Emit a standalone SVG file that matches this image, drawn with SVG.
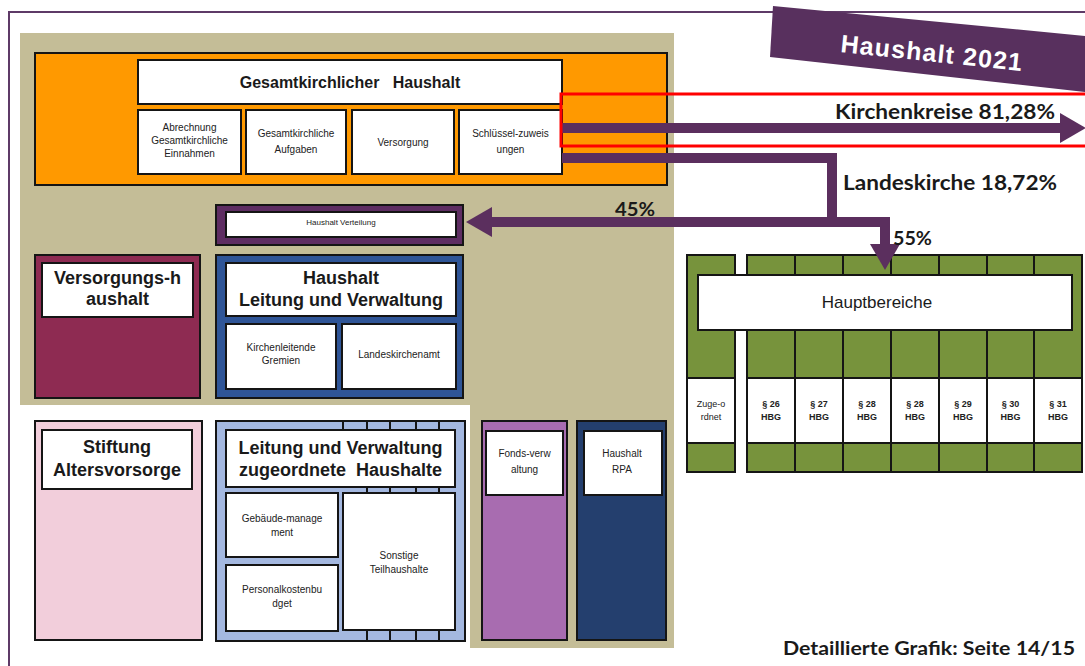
<svg xmlns="http://www.w3.org/2000/svg" width="1085" height="666" viewBox="0 0 1085 666">
<defs>
<marker id="ah" viewBox="0 0 26 30" refX="0" refY="15" markerWidth="26" markerHeight="30" markerUnits="userSpaceOnUse" orient="auto">
<path d="M0,0 L26,15 L0,30 Z" fill="#5B2F5E"/>
</marker>
<style>
.bx{stroke:#151515;stroke-width:2}
.w{fill:#ffffff;stroke:#151515;stroke-width:2}
.t{font-family:"Liberation Sans",Arial,sans-serif;fill:#222;text-anchor:middle}
.s{font-size:10px}
.xs{font-size:8px}
.b{font-size:18px;font-weight:bold;fill:#1a1a1a}
.c{font-family:Lato,"Liberation Sans",sans-serif;font-weight:bold;fill:#1a1a1a}
.con{fill:none;stroke:#5B2F5E;stroke-width:10;stroke-linejoin:miter}
.g{fill:#77933C;stroke:#151515;stroke-width:2}
.dv{stroke:#151515;stroke-width:2}
</style>
</defs>
<rect width="1085" height="666" fill="#ffffff"/>
<path d="M9,666 V12 H1085" fill="none" stroke="#5E3A67" stroke-width="2"/>
<path d="M20,33 H674 V648 H470 V405 H20 Z" fill="#C4BD97"/>

<g id="gesamt">
<rect x="35" y="53" width="632" height="132" fill="#FF9900" class="bx"/>
<rect x="138" y="60" width="424" height="44" class="w"/>
<text x="350" y="88" class="t" style="font-size:16px;font-weight:bold;fill:#1a1a1a" xml:space="preserve">Gesamtkirchlicher   Haushalt</text>
</g>
<g id="abrechnung">
<rect x="138" y="110" width="103" height="64" class="w"/>
<text class="t s" x="189.5" y="131">Abrechnung</text>
<text class="t s" x="189.5" y="144">Gesamtkirchliche</text>
<text class="t s" x="189.5" y="157">Einnahmen</text>
</g>
<g id="aufgaben">
<rect x="246" y="110" width="100" height="64" class="w"/>
<text class="t s" x="296" y="137">Gesamtkirchliche</text>
<text class="t s" x="296" y="153">Aufgaben</text>
</g>
<g id="versorgung">
<rect x="352" y="110" width="102" height="64" class="w"/>
<text class="t s" x="403" y="146">Versorgung</text>
</g>
<g id="schluessel">
<rect x="459" y="110" width="103" height="64" class="w"/>
<text class="t s" x="510.5" y="137">Schlüssel-zuweis</text>
<text class="t s" x="510.5" y="153">ungen</text>
</g>

<g id="verteilung">
<rect x="216" y="205" width="247" height="40" fill="#5E2D62" class="bx"/>
<rect x="226" y="212" width="230" height="25" class="w"/>
<text class="t xs" x="341" y="225">Haushalt Verteilung</text>
</g>

<g id="versorgungshaushalt">
<rect x="35" y="255" width="165" height="143" fill="#8E2B52" class="bx"/>
<rect x="42" y="263" width="151" height="54" class="w"/>
<text class="t b" x="117.5" y="284">Versorgungs-h</text>
<text class="t b" x="117.5" y="305">aushalt</text>
</g>

<g id="leitung">
<rect x="216" y="255" width="247" height="143" fill="#2F5597" class="bx"/>
<rect x="226" y="263" width="230" height="53" class="w"/>
<text class="t b" x="341" y="284">Haushalt</text>
<text class="t b" x="341" y="306">Leitung und Verwaltung</text>
<rect x="226" y="324" width="110" height="65" class="w"/>
<text class="t s" x="281" y="351">Kirchenleitende</text>
<text class="t s" x="281" y="364">Gremien</text>
<rect x="342" y="324" width="114" height="65" class="w"/>
<text class="t s" x="399" y="358">Landeskirchenamt</text>
</g>

<g id="stiftung">
<rect x="35" y="421" width="167" height="219" fill="#F2CEDB" class="bx"/>
<rect x="42" y="430" width="150" height="59" class="w"/>
<text class="t b" x="117" y="453">Stiftung</text>
<text class="t b" x="117" y="476">Altersvorsorge</text>
</g>

<g id="zugeordnete">
<rect x="216" y="421" width="249" height="220" fill="#A4B8E0" class="bx"/>
<path class="dv" d="M367,421 V430 M390,421 V430 M416,421 V430 M439,421 V430 M367,487 V493 M390,487 V493 M416,487 V493 M439,487 V493 M367,630 V641 M390,630 V641 M416,630 V641 M439,630 V641 M343,421 V430"/>
<rect x="226" y="430" width="229" height="57" class="w"/>
<text class="t b" x="340.5" y="454">Leitung und Verwaltung</text>
<text class="t b" x="340.5" y="476" xml:space="preserve">zugeordnete  Haushalte</text>
<rect x="226" y="493" width="112" height="64" class="w"/>
<text class="t s" x="282" y="522">Gebäude-manage</text>
<text class="t s" x="282" y="536">ment</text>
<rect x="226" y="565" width="112" height="66" class="w"/>
<text class="t s" x="282" y="593">Personalkostenbu</text>
<text class="t s" x="282" y="607">dget</text>
<rect x="343" y="493" width="112" height="137" class="w"/>
<text class="t s" x="399" y="559">Sonstige</text>
<text class="t s" x="399" y="573">Teilhaushalte</text>
</g>

<g id="fonds">
<rect x="482" y="421" width="85" height="219" fill="#A86CB0" class="bx"/>
<rect x="486" y="431" width="77" height="64" class="w"/>
<text class="t s" x="524.5" y="457">Fonds-verw</text>
<text class="t s" x="524.5" y="473">altung</text>
</g>

<g id="rpa">
<rect x="577" y="421" width="89" height="219" fill="#243F6E" class="bx"/>
<rect x="584" y="431" width="78" height="64" class="w"/>
<text class="t s" x="622" y="457">Haushalt</text>
<text class="t s" x="622" y="473">RPA</text>
</g>

<g id="hauptbereiche">
<rect x="687" y="255" width="48" height="217" class="g"/>
<rect x="687" y="378" width="48" height="65" class="w"/>
<text class="t s" x="711" y="407" style="font-size:9px">Zuge-o</text>
<text class="t s" x="711" y="420" style="font-size:9px">rdnet</text>
<rect x="747" y="255" width="48" height="217" class="g"/>
<rect x="795" y="255" width="48" height="217" class="g"/>
<rect x="843" y="255" width="48" height="217" class="g"/>
<rect x="891" y="255" width="48" height="217" class="g"/>
<rect x="939" y="255" width="48" height="217" class="g"/>
<rect x="987" y="255" width="47" height="217" class="g"/>
<rect x="1034" y="255" width="48" height="217" class="g"/>
<rect x="747" y="378" width="48" height="65" class="w"/>
<rect x="795" y="378" width="48" height="65" class="w"/>
<rect x="843" y="378" width="48" height="65" class="w"/>
<rect x="891" y="378" width="48" height="65" class="w"/>
<rect x="939" y="378" width="48" height="65" class="w"/>
<rect x="987" y="378" width="47" height="65" class="w"/>
<rect x="1034" y="378" width="48" height="65" class="w"/>
<g class="t" style="font-size:9px;font-weight:bold">
<text x="771" y="407">§ 26</text><text x="771" y="420">HBG</text>
<text x="819" y="407">§ 27</text><text x="819" y="420">HBG</text>
<text x="867" y="407">§ 28</text><text x="867" y="420">HBG</text>
<text x="915" y="407">§ 28</text><text x="915" y="420">HBG</text>
<text x="963" y="407">§ 29</text><text x="963" y="420">HBG</text>
<text x="1010.5" y="407">§ 30</text><text x="1010.5" y="420">HBG</text>
<text x="1058" y="407">§ 31</text><text x="1058" y="420">HBG</text>
</g>
<rect x="698" y="275" width="374" height="55" class="w"/>
<text class="t" x="877" y="308" style="font-size:17px;fill:#1a1a1a">Hauptbereiche</text>
</g>

<g id="connectors">
<path class="con" d="M562,128 H1060" marker-end="url(#ah)"/>
<path class="con" d="M562,158 H832 V222 H492" marker-end="url(#ah)"/>
<path class="con" d="M827,222 H885 V244" marker-end="url(#ah)"/>
</g>
<rect x="561" y="94" width="530" height="52" fill="none" stroke="#FF0000" stroke-width="3"/>

<g id="labels">
<text class="c" x="835" y="119" font-size="20" textLength="220" lengthAdjust="spacingAndGlyphs">Kirchenkreise 81,28%</text>
<text class="c" x="843" y="190" font-size="20" textLength="214" lengthAdjust="spacingAndGlyphs">Landeskirche 18,72%</text>
<text class="c" x="615" y="216" font-size="19" textLength="40" lengthAdjust="spacingAndGlyphs">45%</text>
<text class="c" x="893" y="245" font-size="19" textLength="39" lengthAdjust="spacingAndGlyphs">55%</text>
<text class="c" x="783" y="655" font-size="19" textLength="292" lengthAdjust="spacingAndGlyphs">Detaillierte Grafik: Seite 14/15</text>
</g>

<g id="banner">
<polygon points="773,6 1085,36 1085,92 770,57" fill="#58305E"/>
<text x="840" y="52" transform="rotate(6 840 52)" font-family="Liberation Sans,Arial,sans-serif" font-weight="bold" font-size="25" fill="#ffffff" textLength="182" lengthAdjust="spacing">Haushalt 2021</text>
</g>
</svg>
